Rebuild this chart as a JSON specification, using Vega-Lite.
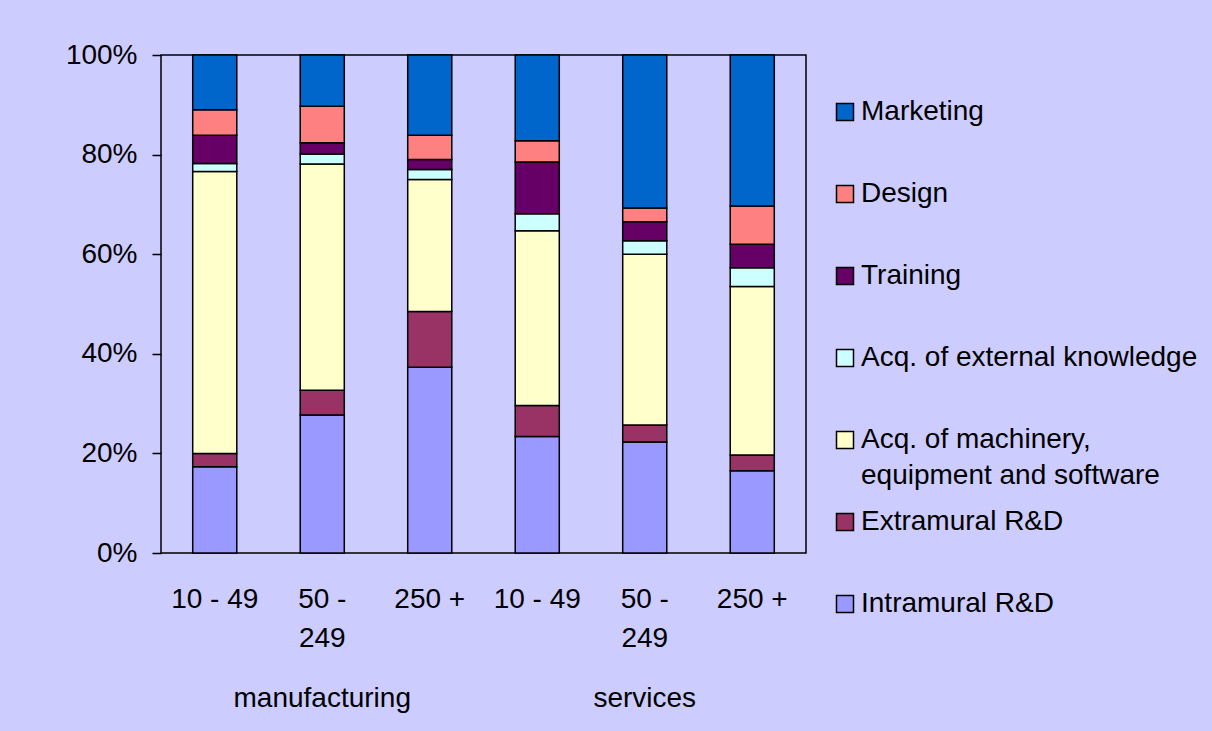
{
  "$schema": "https://vega.github.io/schema/vega-lite/v6.json",
  "width": 645,
  "height": 498,
  "autosize": {"type": "none"},
  "padding": {"left": 161, "top": 55, "right": 406, "bottom": 178},
  "background": "#CCCCFF",
  "config": {
    "view": {"fill": "#CCCCFF", "stroke": "#000000", "strokeWidth": 1.5},
    "font": "Liberation Sans",
    "style": {"guide-label": {"lineHeight": 36}}
  },
  "data": {
    "values": [
      {"bar": "manufacturing 10 - 49", "type": "Intramural R&D", "share": 17.3},
      {"bar": "manufacturing 10 - 49", "type": "Extramural R&D", "share": 2.7},
      {"bar": "manufacturing 10 - 49", "type": "Acq. of machinery, equipment and software", "share": 56.6},
      {"bar": "manufacturing 10 - 49", "type": "Acq. of external knowledge", "share": 1.6},
      {"bar": "manufacturing 10 - 49", "type": "Training", "share": 5.7},
      {"bar": "manufacturing 10 - 49", "type": "Design", "share": 5.1},
      {"bar": "manufacturing 10 - 49", "type": "Marketing", "share": 11.0},
      {"bar": "manufacturing 50 - 249", "type": "Intramural R&D", "share": 27.7},
      {"bar": "manufacturing 50 - 249", "type": "Extramural R&D", "share": 5.0},
      {"bar": "manufacturing 50 - 249", "type": "Acq. of machinery, equipment and software", "share": 45.4},
      {"bar": "manufacturing 50 - 249", "type": "Acq. of external knowledge", "share": 2.0},
      {"bar": "manufacturing 50 - 249", "type": "Training", "share": 2.3},
      {"bar": "manufacturing 50 - 249", "type": "Design", "share": 7.3},
      {"bar": "manufacturing 50 - 249", "type": "Marketing", "share": 10.3},
      {"bar": "manufacturing 250 +", "type": "Intramural R&D", "share": 37.3},
      {"bar": "manufacturing 250 +", "type": "Extramural R&D", "share": 11.2},
      {"bar": "manufacturing 250 +", "type": "Acq. of machinery, equipment and software", "share": 26.5},
      {"bar": "manufacturing 250 +", "type": "Acq. of external knowledge", "share": 2.0},
      {"bar": "manufacturing 250 +", "type": "Training", "share": 2.0},
      {"bar": "manufacturing 250 +", "type": "Design", "share": 4.9},
      {"bar": "manufacturing 250 +", "type": "Marketing", "share": 16.1},
      {"bar": "services 10 - 49", "type": "Intramural R&D", "share": 23.4},
      {"bar": "services 10 - 49", "type": "Extramural R&D", "share": 6.2},
      {"bar": "services 10 - 49", "type": "Acq. of machinery, equipment and software", "share": 35.1},
      {"bar": "services 10 - 49", "type": "Acq. of external knowledge", "share": 3.4},
      {"bar": "services 10 - 49", "type": "Training", "share": 10.4},
      {"bar": "services 10 - 49", "type": "Design", "share": 4.3},
      {"bar": "services 10 - 49", "type": "Marketing", "share": 17.2},
      {"bar": "services 50 - 249", "type": "Intramural R&D", "share": 22.3},
      {"bar": "services 50 - 249", "type": "Extramural R&D", "share": 3.4},
      {"bar": "services 50 - 249", "type": "Acq. of machinery, equipment and software", "share": 34.3},
      {"bar": "services 50 - 249", "type": "Acq. of external knowledge", "share": 2.7},
      {"bar": "services 50 - 249", "type": "Training", "share": 3.8},
      {"bar": "services 50 - 249", "type": "Design", "share": 2.8},
      {"bar": "services 50 - 249", "type": "Marketing", "share": 30.7},
      {"bar": "services 250 +", "type": "Intramural R&D", "share": 16.5},
      {"bar": "services 250 +", "type": "Extramural R&D", "share": 3.2},
      {"bar": "services 250 +", "type": "Acq. of machinery, equipment and software", "share": 33.8},
      {"bar": "services 250 +", "type": "Acq. of external knowledge", "share": 3.8},
      {"bar": "services 250 +", "type": "Training", "share": 4.7},
      {"bar": "services 250 +", "type": "Design", "share": 7.7},
      {"bar": "services 250 +", "type": "Marketing", "share": 30.3}
    ]
  },
  "transform": [
    {"calculate": "indexof(['Intramural R&D', 'Extramural R&D', 'Acq. of machinery, equipment and software', 'Acq. of external knowledge', 'Training', 'Design', 'Marketing'], datum.type)", "as": "stackRank"}
  ],
  "mark": {"type": "bar", "stroke": "#000000", "strokeWidth": 1.5},
  "encoding": {
    "x": {
      "field": "bar",
      "type": "nominal",
      "sort": null,
      "scale": {"paddingInner": 0.59, "paddingOuter": 0.295},
      "axis": {
        "title": null,
        "domain": false,
        "ticks": false,
        "tickSize": 0,
        "labelAngle": 0,
        "labelFontSize": 28,
        "labelColor": "#000000",
        "labelPadding": 32,
        "labelLineHeight": 19.8,
        "labelOverlap": false,
        "labelLimit": 0,
        "labelExpr": "datum.value == 'manufacturing 50 - 249' ? ['50 -', '\u200b', '249', '\u200b', '\u200b', 'manufacturing'] : datum.value == 'services 50 - 249' ? ['50 -', '\u200b', '249', '\u200b', '\u200b', 'services'] : replace(replace(datum.value, 'manufacturing ', ''), 'services ', '')"
      }
    },
    "y": {
      "field": "share",
      "type": "quantitative",
      "stack": "normalize",
      "scale": {"domain": [0, 1]},
      "axis": {
        "title": null,
        "domain": false,
        "grid": false,
        "values": [0, 0.2, 0.4, 0.6, 0.8, 1],
        "format": ".0%",
        "tickSize": 9,
        "tickColor": "#000000",
        "tickWidth": 1.5,
        "labelFontSize": 28,
        "labelColor": "#000000",
        "labelPadding": 15
      }
    },
    "order": {"field": "stackRank", "type": "quantitative", "sort": "ascending"},
    "color": {
      "field": "type",
      "type": "nominal",
      "scale": {
        "domain": ["Marketing", "Design", "Training", "Acq. of external knowledge", "Acq. of machinery, equipment and software", "Extramural R&D", "Intramural R&D"],
        "range": ["#0066CC", "#FF8080", "#660066", "#CCFFFF", "#FFFFCC", "#993366", "#9999FF"]
      },
      "legend": {
        "title": null,
        "orient": "none",
        "legendX": 670,
        "legendY": 43,
        "padding": 0,
        "gridAlign": "all",
        "symbolType": "square",
        "symbolSize": 289,
        "symbolStrokeColor": "#000000",
        "symbolStrokeWidth": 1.5,
        "symbolOpacity": 1,
        "labelFontSize": 28,
        "labelColor": "#000000",
        "labelOffset": 2,
        "labelLimit": 0,
        "rowPadding": 18,
        "labelExpr": "datum.label == 'Acq. of machinery, equipment and software' ? ['Acq. of machinery,', 'equipment and software'] : datum.label"
      }
    }
  }
}
